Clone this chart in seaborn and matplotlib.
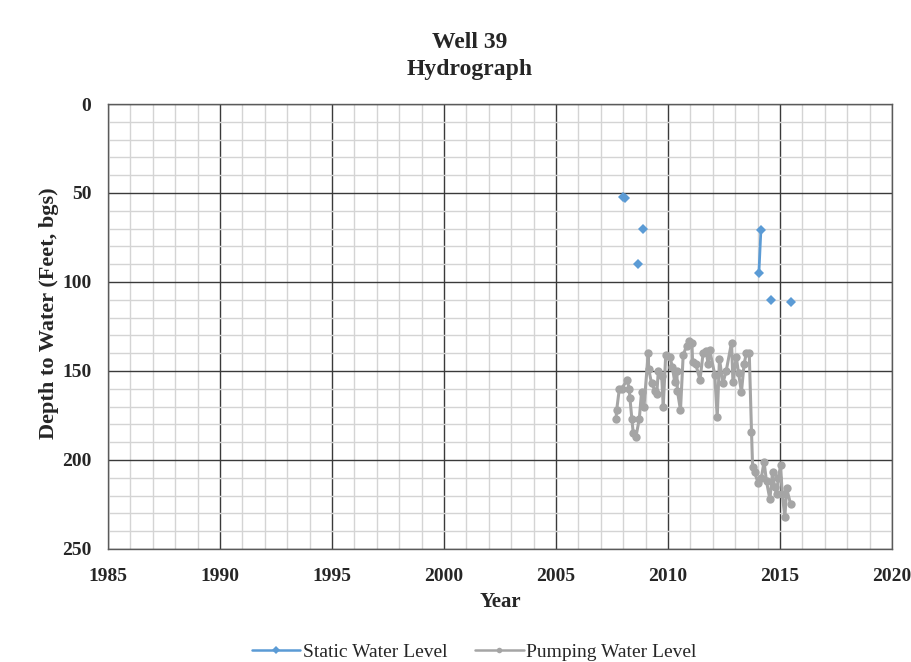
import numpy as np
import pandas as pd
import seaborn as sns
import matplotlib
matplotlib.use("Agg")
import matplotlib.pyplot as plt
from matplotlib.lines import Line2D
from matplotlib.ticker import MultipleLocator

# ---- data ----
static_years = [2008.00, 2008.10, 2008.66, 2008.90, 2014.06, 2014.15, 2014.60, 2015.50]
static_depths = [52, 53, 90, 70, 95, 71, 110, 111]
static_segment = [1, 1, 2, 3, 4, 4, 5, 6]

pump_years = [2007.68, 2007.71, 2007.83, 2007.93, 2008.18, 2008.27, 2008.30, 2008.39,
              2008.45, 2008.57, 2008.72, 2008.82, 2008.93, 2009.12, 2009.14, 2009.27,
              2009.42, 2009.50, 2009.57, 2009.72, 2009.79, 2009.90, 2010.09, 2010.20,
              2010.30, 2010.40, 2010.42, 2010.56, 2010.68, 2010.83, 2010.95, 2011.07,
              2011.10, 2011.24, 2011.43, 2011.57, 2011.71, 2011.79, 2011.86, 2012.09,
              2012.20, 2012.30, 2012.45, 2012.60, 2012.84, 2012.90, 2013.05, 2013.15,
              2013.28, 2013.40, 2013.50, 2013.63, 2013.73, 2013.78, 2013.87, 2014.03,
              2014.17, 2014.29, 2014.40, 2014.55, 2014.67, 2014.76, 2014.85, 2014.93,
              2015.03, 2015.10, 2015.22, 2015.30, 2015.48]
pump_depths = [177, 172, 160, 160, 155, 160, 165, 177,
               185, 187, 177, 162, 170, 140, 149, 157,
               161, 163, 150, 153, 170, 141, 142, 148,
               156, 150, 161, 172, 141, 136, 133, 134,
               145, 146, 155, 140, 139, 146, 138, 152,
               176, 143, 157, 150, 134, 156, 142, 151,
               162, 146, 140, 140, 184, 204, 207, 213,
               210, 201, 212, 222, 207, 215, 219, 210,
               203, 219, 232, 216, 225]

title_lines = ["Well 39", "Hydrograph"]
x_ticks = [1985, 1990, 1995, 2000, 2005, 2010, 2015, 2020]
y_ticks = [0, 50, 100, 150, 200, 250]
series_names = ["Static Water Level", "Pumping Water Level"]

static_df = pd.DataFrame({"year": static_years, "depth": static_depths, "seg": static_segment})
pump_df = pd.DataFrame({"year": pump_years, "depth": pump_depths})

blue = "#5B9BD5"
gray = "#A5A5A5"
serif = ["Liberation Serif", "DejaVu Serif"]

sns.set_style("white")
plt.rcParams["font.family"] = serif

fig = plt.figure(figsize=(9.12, 6.62), dpi=100)
ax = fig.add_axes([0.1184, 0.1707, 0.8596, 0.6722])

sns.lineplot(data=pump_df, x="year", y="depth", sort=False, estimator=None,
             color=gray, lw=2.2, marker="o", markersize=6, markeredgewidth=0,
             ax=ax, zorder=3)
sns.lineplot(data=static_df, x="year", y="depth", units="seg", sort=False,
             estimator=None, color=blue, lw=2, marker="D", markersize=5,
             markeredgewidth=0, ax=ax, zorder=4)

ax.set_xlim(1985, 2020)
ax.set_ylim(250, 0)
ax.xaxis.set_major_locator(MultipleLocator(5))
ax.xaxis.set_minor_locator(MultipleLocator(1))
ax.yaxis.set_major_locator(MultipleLocator(50))
ax.yaxis.set_minor_locator(MultipleLocator(10))
ax.set_xticks(x_ticks)
ax.set_yticks(y_ticks)
ax.grid(which="minor", color="#d4d4d4", lw=1)
ax.grid(which="major", color="#3a3a3a", lw=1)
ax.set_axisbelow(True)
for s in ax.spines.values():
    s.set_color("#5a5a5a")
    s.set_linewidth(1)
ax.tick_params(which="both", length=0, labelsize=14)
ax.tick_params(axis="x", pad=14)
ax.tick_params(axis="y", pad=12)
for lab in ax.get_xticklabels() + ax.get_yticklabels():
    lab.set_fontweight("bold")

ax.set_xlabel("Year", fontsize=15, fontweight="bold", va="top")
ax.xaxis.set_label_coords(0.5, -0.097)
ax.set_ylabel("Depth to Water (Feet, bgs)", fontsize=16, fontweight="bold")
ax.yaxis.set_label_coords(-0.062, 0.53)

fig.text(0.515, 0.9275, title_lines[0], ha="center", va="baseline", fontsize=17, fontweight="bold")
fig.text(0.515, 0.887, title_lines[1], ha="center", va="baseline", fontsize=17, fontweight="bold")

handles = [Line2D([0], [0], color=blue, lw=1.8, marker="D", markersize=4, markeredgewidth=0),
           Line2D([0], [0], color=gray, lw=1.8, marker="o", markersize=4, markeredgewidth=0)]
fig.legend(handles, series_names, loc="center", bbox_to_anchor=(0.52, 0.015), ncol=2,
           frameon=False, fontsize=14, handlelength=2.5, handletextpad=0.15, columnspacing=1.4)

fig.savefig("out.png", dpi=100)
